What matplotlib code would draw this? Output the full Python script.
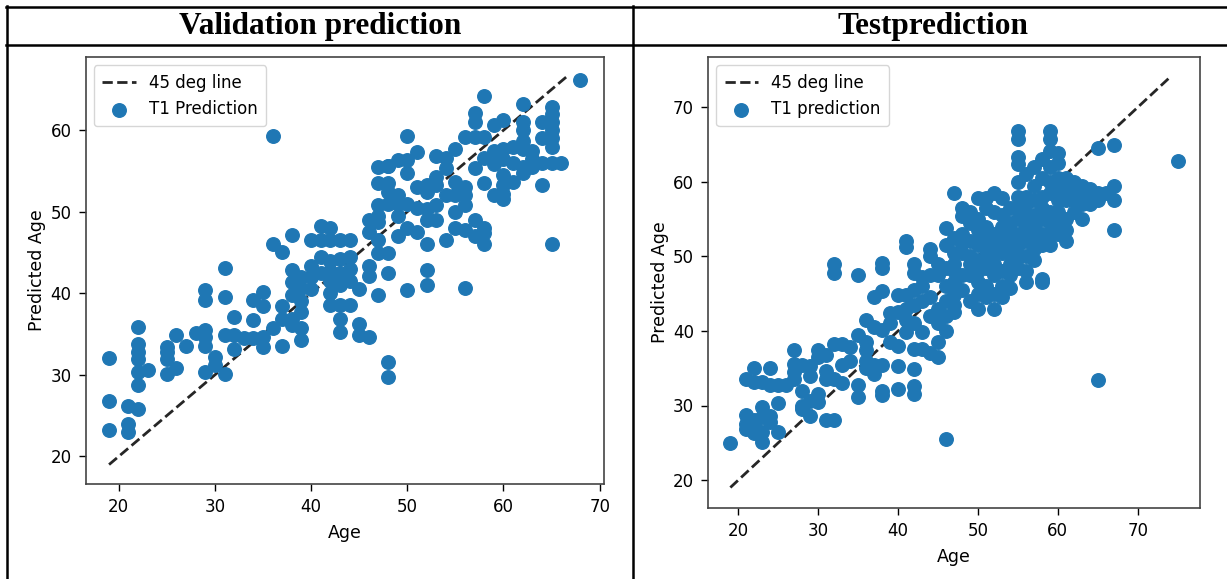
import matplotlib
matplotlib.use("Agg")
import matplotlib.pyplot as plt
from matplotlib.lines import Line2D
import numpy as np

# ---------------- data ----------------
# Validation: age -> predicted ages
val_age = (
    [19]*3 + [21]*3 + [22]*7 + [23] + [25]*4 + [26]*2 + [27] + [28] + [29]*6 + [30]*2 +
    [31]*4 + [32]*3 + [33] + [34]*3 + [35]*4 + [36]*3 + [37]*4 + [38]*6 + [39]*6 + [40]*4 +
    [41]*4 + [42]*7 + [43]*7 + [44]*5 + [45]*3 + [46]*5 + [47]*8 + [48]*9 + [49]*5 + [50]*6 +
    [51]*4 + [52]*7 + [53]*5 + [54]*4 + [55]*5 + [56]*6 + [57]*6 + [58]*7 + [59]*4 + [60]*7 +
    [61]*3 + [62]*7 + [63]*3 + [64]*4 + [65]*8 + [66] + [68]
)
val_pred = [
    32.1, 26.8, 23.2,
    26.2, 24.0, 23.0,
    35.9, 33.8, 32.8, 32.0, 30.3, 28.7, 25.8,
    30.6,
    33.4, 32.8, 32.0, 30.1,
    34.9, 30.8,
    33.6,
    35.1,
    40.4, 39.2, 35.5, 34.7, 33.6, 30.3,
    32.2, 31.2,
    43.1, 39.6, 34.9, 30.1,
    37.1, 34.9, 33.2,
    34.5,
    39.2, 36.7, 34.5,
    40.2, 38.4, 34.7, 33.4,
    59.3, 46.1, 35.7,
    45.1, 38.4, 36.9, 33.6,
    47.2, 42.9, 41.4, 39.8, 36.9, 36.1,
    42.0, 40.6, 39.0, 37.7, 35.7, 34.3,
    46.5, 43.3, 42.0, 40.5,
    48.3, 46.6, 44.5, 42.5,
    48.0, 46.6, 44.0, 42.8, 41.5, 40.0, 38.6,
    46.6, 44.2, 42.5, 41.0, 38.6, 36.9, 35.3,
    46.6, 44.5, 43.0, 41.5, 38.6,
    36.3, 34.9, 40.5,
    47.5, 43.3, 42.1, 34.7, 49.0,
    50.8, 49.5, 48.7, 46.5, 45.0, 39.8, 55.5, 53.5,
    55.6, 53.5, 52.4, 51.0, 45.0, 42.5, 31.6, 29.7, 55.6,
    56.4, 52.0, 51.0, 49.5, 47.0,
    59.3, 54.7, 51.0, 48.0, 40.4, 56.4,
    57.3, 50.5, 47.5, 53.0,
    53.3, 52.4, 50.3, 49.0, 46.0, 42.9, 41.0,
    56.8, 54.3, 53.3, 50.8, 49.0,
    56.6, 55.4, 46.6, 52.0,
    57.7, 53.7, 52.0, 50.0, 48.0,
    59.2, 53.0, 52.0, 50.8, 47.8, 40.6,
    62.1, 61.05, 59.2, 55.4, 49.0, 47.0,
    64.2, 59.2, 56.6, 53.5, 47.4, 46.1, 48.0,
    60.6, 55.8, 57.5, 52.0,
    61.3, 57.7, 56.5, 54.5, 53.3, 52.2, 51.6,
    53.7, 58.0, 56.0,
    63.2, 61.05, 60.0, 58.7, 57.7, 54.7, 55.5,
    57.5, 55.5, 56.5,
    61.0, 59.0, 53.3, 56.0,
    62.9, 62.0, 61.0, 60.0, 59.0, 57.9, 56.0, 46.1,
    56.0,
    66.2,
]
val_line = [19, 66.6]

# Test: age -> predicted ages
test_groups = {
    19: [25.0],
    21: [33.6, 28.7, 27.5, 26.9],
    22: [35.0, 33.1, 28.0, 26.3, 27.5],
    23: [33.2, 29.8, 28.4, 25.1, 26.5],
    24: [35.0, 32.7, 28.6, 27.8],
    25: [32.7, 30.3, 26.4],
    26: [32.7],
    27: [37.4, 35.6, 34.5, 33.5],
    28: [35.5, 32.0, 30.0, 29.5],
    29: [35.3, 34.0, 30.6, 28.6],
    30: [37.4, 36.5, 31.6, 30.5],
    31: [36.8, 34.6, 33.5, 28.1],
    32: [49.0, 47.8, 38.3, 33.6, 28.1],
    33: [38.3, 35.5, 33.0],
    34: [37.9, 36.0],
    35: [47.5, 39.5, 32.8, 31.2],
    36: [41.5, 37.4, 36.0, 35.0, 38.5],
    37: [44.5, 40.5, 34.2, 35.5],
    38: [49.1, 48.5, 45.3, 40.1, 35.4, 31.4, 32.0],
    39: [42.4, 41.0, 38.5],
    40: [44.8, 42.5, 35.3, 32.2, 38.0],
    41: [52.0, 51.3, 44.8, 39.8, 41.5, 43.0],
    42: [49.0, 47.8, 43.5, 37.6, 34.9, 32.6, 31.5, 41.0, 45.5],
    43: [47.3, 39.8, 37.6, 44.0, 46.0],
    44: [51.0, 50.0, 44.5, 37.0, 42.0, 47.5],
    45: [47.5, 43.0, 38.5, 36.5, 41.0, 49.0],
    46: [53.8, 51.5, 48.5, 46.0, 42.0, 40.0, 25.5, 44.0],
    47: [58.5, 52.5, 50.5, 49.0, 46.5, 44.8, 43.5, 48.0, 42.5],
    48: [56.5, 55.4, 53.0, 50.5, 47.5, 45.5, 51.8],
    49: [54.5, 52.0, 50.0, 49.0, 47.5, 44.0, 56.0],
    50: [57.9, 55.0, 53.5, 52.0, 51.5, 49.5, 48.0, 46.5, 45.0, 43.0],
    51: [57.9, 56.5, 54.0, 52.5, 51.0, 50.0, 48.5, 46.0, 44.5],
    52: [58.5, 56.0, 53.0, 52.0, 50.5, 49.0, 47.5, 45.0, 43.0],
    53: [57.9, 55.5, 54.0, 51.5, 50.5, 48.0, 46.0, 44.5, 53.0],
    54: [56.5, 54.5, 52.0, 50.5, 49.0, 47.5, 45.8, 53.5],
    55: [66.8, 65.7, 63.3, 62.4, 60.0, 58.0, 56.5, 55.0, 53.0, 51.5, 50.0, 48.5],
    56: [61.0, 58.0, 57.0, 55.5, 54.0, 52.0, 50.0, 48.0, 46.5, 53.5],
    57: [62.0, 59.5, 57.5, 55.5, 54.0, 52.5, 51.0, 49.5],
    58: [63.0, 60.5, 58.0, 56.5, 55.0, 53.0, 51.5, 47.0, 46.5],
    59: [66.8, 65.7, 64.2, 62.0, 60.0, 58.5, 56.0, 54.5, 53.0, 51.5],
    60: [63.9, 62.5, 60.5, 59.0, 57.5, 56.0, 54.5, 53.0],
    61: [60.5, 59.0, 57.5, 55.0, 53.5, 52.0],
    62: [60.0, 58.5, 57.5, 56.0],
    63: [59.5, 58.5, 57.0, 55.0],
    64: [59.0, 58.0, 57.0],
    65: [64.6, 58.5, 57.5, 33.4],
    66: [58.5],
    67: [65.0, 59.4, 57.6, 53.6],
    75: [62.8],
}
test_age = [a for a, ys in test_groups.items() for _ in ys]
test_pred = [y for ys in test_groups.values() for y in ys]
test_line = [19, 74]

panel_titles = ["Validation prediction", "Testprediction"]
legend_labels = ["T1 Prediction", "T1 prediction"]
val_xticks = [20, 30, 40, 50, 60, 70]
val_yticks = [20, 30, 40, 50, 60]
test_xticks = [20, 30, 40, 50, 60, 70]
test_yticks = [20, 30, 40, 50, 60, 70]

# ---------------- figure ----------------
W, H = 1227, 579
fig = plt.figure(figsize=(W / 100, H / 100), dpi=100)
fig.patch.set_facecolor("white")
plt.rcParams["font.family"] = "DejaVu Sans"

def px_axes(l, r, t, b):
    return fig.add_axes([l / W, 1 - b / H, (r - l) / W, (b - t) / H])

ax1 = px_axes(85.5, 604, 57, 484)
ax2 = px_axes(708, 1200, 57, 508)

for ax, xs, ys, line, lab, xt, yt in [
    (ax1, val_age, val_pred, val_line, legend_labels[0], val_xticks, val_yticks),
    (ax2, test_age, test_pred, test_line, legend_labels[1], test_xticks, test_yticks),
]:
    ax.plot(line, line, "k--", lw=2.0, alpha=0.85, label="45 deg line")
    ax.scatter(xs, ys, s=95, color="#1f77b4", label=lab, zorder=3)
    ax.set_xticks(xt)
    ax.set_yticks(yt)
    ax.set_xlabel("Age", fontsize=12.5, labelpad=6)
    ax.set_ylabel("Predicted Age", fontsize=12.5, labelpad=3)
    ax.tick_params(length=5, width=1, labelsize=12, pad=5)
    for sp in ax.spines.values():
        sp.set_linewidth(1.2)
        sp.set_color("#444444")
    ax.legend(loc="upper left", fontsize=12, borderpad=0.5, handlelength=2.0)

# ---------------- table borders ----------------
def fx(x): return x / W
def fy(y): return 1 - y / H
lw = 1.8
fig.add_artist(Line2D([fx(5.5), 1], [fy(7), fy(7)], color="black", lw=lw, transform=fig.transFigure))
fig.add_artist(Line2D([fx(5.5), 1], [fy(44.5), fy(44.5)], color="black", lw=lw, transform=fig.transFigure))
fig.add_artist(Line2D([fx(6.7), fx(6.7)], [fy(6), 0], color="black", lw=lw, transform=fig.transFigure))
fig.add_artist(Line2D([fx(632.7), fx(632.7)], [fy(6), 0], color="black", lw=lw, transform=fig.transFigure))

fig.text(fx(320), fy(26.5), panel_titles[0], ha="center", va="center",
         family="Liberation Serif", weight="bold", fontsize=22.5)
fig.text(fx(933), fy(26.5), panel_titles[1], ha="center", va="center",
         family="Liberation Serif", weight="bold", fontsize=22.5)

fig.savefig("out.png", dpi=100)
